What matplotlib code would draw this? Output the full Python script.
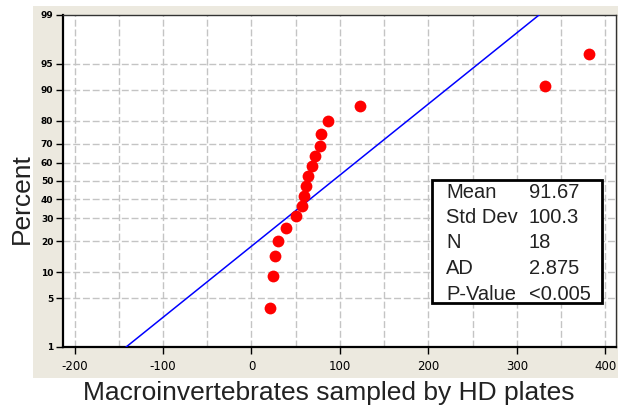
from statistics import NormalDist

import matplotlib
matplotlib.use("Agg")
import matplotlib.pyplot as plt
import numpy as np
from matplotlib.patches import Rectangle
from matplotlib.ticker import FixedLocator

# sorted sample values
values = [21, 24, 27, 30, 39, 50, 57, 59, 62, 64, 68, 72, 78, 79, 87, 123, 332, 382]

percent_ticks = [1, 5, 10, 20, 30, 40, 50, 60, 70, 80, 90, 95, 99]
x_ticks = [-200, -100, 0, 100, 200, 300, 400]

fit_mean = 91.67
fit_std = 100.3

stat_names = ["Mean", "Std Dev", "N", "AD", "P-Value"]
stat_values = ["91.67", "100.3", "18", "2.875", "<0.005"]

W, H = 618, 407
nd = NormalDist()


def fx(px):
    return px / W


def fy(py):
    return 1 - py / H


n = len(values)
ranks = [(i + 1 - 0.3) / (n + 0.4) for i in range(n)]
z_points = [nd.inv_cdf(p) for p in ranks]
z_lo = nd.inv_cdf(0.01)
z_hi = nd.inv_cdf(0.99)

fig = plt.figure(figsize=(W / 100, H / 100), dpi=100)
fig.patch.set_facecolor("white")
fig.add_artist(Rectangle((fx(33), fy(378)), fx(585), 372 / H, transform=fig.transFigure,
                         facecolor="#ECE9DF", edgecolor="none", zorder=-10))

ax = fig.add_axes([fx(63), fy(347), fx(553), 332 / H])
ax.set_zorder(1)
ax.set_facecolor("white")

# grid
for xv in np.arange(-200, 401, 50):
    ax.axvline(xv, color="#C4C4C4", lw=1, dashes=(5, 2), zorder=1)
for p in percent_ticks[1:-1]:
    ax.axhline(nd.inv_cdf(p / 100), color="#C4C4C4", lw=1, dashes=(5, 2), zorder=1)

# fitted normal line
z_line = np.array([z_lo, z_hi])
ax.plot(fit_mean + fit_std * z_line, z_line, color="#0000FF", lw=1.1, zorder=3)

ax.plot(values, z_points, "o", color="#FF0000", markersize=8.5, markeredgewidth=0, zorder=4)

ax.set_xlim(-213, 412)
ax.set_ylim(z_lo, z_hi)
ax.xaxis.set_major_locator(FixedLocator(x_ticks))
ax.set_xticklabels([str(t) for t in x_ticks], fontsize=8.5, family="DejaVu Sans")
ax.yaxis.set_major_locator(FixedLocator([nd.inv_cdf(p / 100) for p in percent_ticks]))
ax.set_yticklabels([str(p) for p in percent_ticks], fontsize=6.5, family="DejaVu Sans",
                   fontweight="bold")
ax.tick_params(axis="both", direction="out", length=5, width=1, color="black")
ax.tick_params(axis="x", pad=4)
ax.tick_params(axis="y", pad=2)

for side in ["left", "bottom"]:
    ax.spines[side].set_linewidth(1.6)
for side in ["top", "right"]:
    ax.spines[side].set_linewidth(1.0)
    ax.spines[side].set_color("#333333")

# labels
fig.text(fx(329), fy(400), "Macroinvertebrates sampled by HD plates", fontsize=19,
         family="Liberation Sans", color="#222222", ha="center", va="baseline")
fig.text(fx(22), fy(199), "Percent", fontsize=19, family="Liberation Sans", color="#222222",
         rotation=90, ha="center", va="center")

# stats box
fig.add_artist(Rectangle((fx(432), fy(303)), fx(170), 123 / H, transform=fig.transFigure,
                         facecolor="white", edgecolor="black", lw=2, zorder=5))
for i, (name, val) in enumerate(zip(stat_names, stat_values)):
    base = 197.5 + i * 25.5
    fig.text(fx(446), fy(base), name, fontsize=14.5, family="Liberation Sans", color="#222222",
             va="baseline", ha="left", zorder=6)
    fig.text(fx(529), fy(base), val, fontsize=14.5, family="Liberation Sans", color="#222222",
             va="baseline", ha="left", zorder=6)

fig.savefig("out.png", dpi=100)
